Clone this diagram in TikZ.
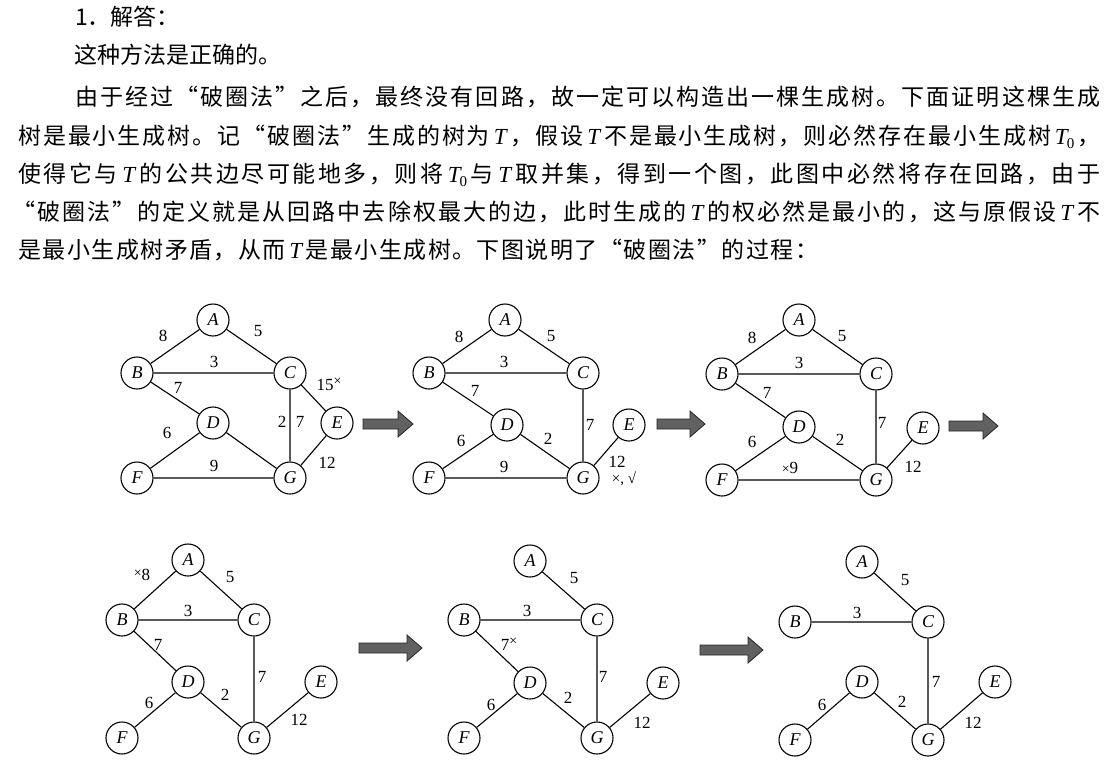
\documentclass[tikz,border=0pt]{standalone}
\usepackage{fontspec}
\setmainfont{Liberation Serif}
\newfontfamily\cjk{Noto Sans CJK SC}

% italic T and T_0 inside the Chinese text
\newcommand\Tv{\hbox{\kern2pt\rmfamily\itshape T\kern2pt}}
\newcommand\Tz{\hbox{\kern2pt\rmfamily\itshape T\kern-1pt\raisebox{-4pt}{\upshape\fontsize{15}{15}\selectfont 0}\kern1pt}}
% small cross mark beside a weight
\newcommand\cross{{\fontsize{14}{14}\selectfont ×}}

% set a line to a fixed width, spreading the characters evenly
\makeatletter
\def\spreadline#1#2{\hbox to #1{\spread@first#2\relax}}
\def\spread@first#1{#1\spread@next}
\def\spread@next#1{\ifx\relax#1\else\hfil#1\expandafter\spread@next\fi}
\makeatother

\tikzset{
  txt/.style={anchor=base west, inner sep=0pt, font=\cjk\fontsize{23}{28}\selectfont},
  vtx/.style={circle, draw, line width=1.1pt, minimum size=32pt, inner sep=0pt,
              font=\fontsize{18}{18}\selectfont\itshape},
  edge/.style={line width=1.1pt},
  lab/.style={inner sep=0pt, font=\fontsize{17}{17}\selectfont},
  bigarrowstyle/.style={fill=black!62, draw=black!85, line width=0.8pt, line join=miter}
}
\newcommand\bigarrow[3]{%
  \filldraw[bigarrowstyle] (#1,#3-5) -- (#2-15,#3-5) -- (#2-15,#3-13) -- (#2,#3)
    -- (#2-15,#3+13) -- (#2-15,#3+5) -- (#1,#3+5) -- cycle;}

\begin{document}
\begin{tikzpicture}[x=1pt, y=-1pt]
\useasboundingbox (0,0) rectangle (1120,774);
\fill[white] (0,0) rectangle (1120,774);

% ---------------- text ----------------
\node[txt] (t1) at (75,25) {1．解答：};
\node[txt] (t2) at (74,63) {这种方法是正确的。};
\node[txt] (t3) at (75,105) {\spreadline{1025pt}{由于经过“破圈法”之后，最终没有回路，故一定可以构造出一棵生成树。下面证明这棵生成}};
\node[txt] (t4) at (18,144) {\spreadline{1082pt}{树是最小生成树。记“破圈法”生成的树为\Tv，假设\Tv 不是最小生成树，则必然存在最小生成树\Tz，}};
\node[txt] (t5) at (18,182) {\spreadline{1082pt}{使得它与\Tv 的公共边尽可能地多，则将\Tz 与\Tv 取并集，得到一个图，此图中必然将存在回路，由于}};
\node[txt] (t6) at (12,220) {\spreadline{1088pt}{“破圈法”的定义就是从回路中去除权最大的边，此时生成的\Tv 的权必然是最小的，这与原假设\Tv 不}};
\node[txt] (t7) at (18,258) {\spreadline{800pt}{是最小生成树矛盾，从而\Tv 是最小生成树。下图说明了“破圈法”的过程：}};

% ---------------- graph 1 ----------------
\node[vtx] (a1) at (213,320) {A};
\node[vtx] (b1) at (137,373) {B};
\node[vtx] (c1) at (290,373) {C};
\node[vtx] (d1) at (213,423) {D};
\node[vtx] (e1) at (337,423) {E};
\node[vtx] (f1) at (137,478) {F};
\node[vtx] (g1) at (290,478) {G};
\draw[edge] (a1) -- (b1) (a1) -- (c1) (b1) -- (c1) (b1) -- (d1) (c1) -- (g1)
  (c1) -- (e1) (d1) -- (f1) (d1) -- (g1) (f1) -- (g1) (e1) -- (g1);
\node[lab] (w1ab) at (163,336) {8};
\node[lab] (w1ac) at (258,331) {5};
\node[lab] (w1bc) at (214,362) {3};
\node[lab] (w1ce) at (329,384) {15\raisebox{5pt}{\cross}};
\node[lab] (w1bd) at (178,388) {7};
\node[lab] (w1dg) at (282,422) {2};
\node[lab] (w1cg) at (300,422) {7};
\node[lab] (w1df) at (167,433) {6};
\node[lab] (w1fg) at (214,466) {9};
\node[lab] (w1eg) at (327,463) {12};

\bigarrow{363}{413}{424}

% ---------------- graph 2 ----------------
\node[vtx] (a2) at (505,320) {A};
\node[vtx] (b2) at (429,373) {B};
\node[vtx] (c2) at (583,373) {C};
\node[vtx] (d2) at (507,425) {D};
\node[vtx] (e2) at (629,425) {E};
\node[vtx] (f2) at (429,478) {F};
\node[vtx] (g2) at (583,478) {G};
\draw[edge] (a2) -- (b2) (a2) -- (c2) (b2) -- (c2) (b2) -- (d2) (c2) -- (g2)
  (d2) -- (f2) (d2) -- (g2) (f2) -- (g2) (e2) -- (g2);
\node[lab] (w2ab) at (459,337) {8};
\node[lab] (w2ac) at (551,336) {5};
\node[lab] (w2bc) at (504,362) {3};
\node[lab] (w2bd) at (475,391) {7};
\node[lab] (w2cg) at (590,425) {7};
\node[lab] (w2df) at (461,441) {6};
\node[lab] (w2dg) at (548,439) {2};
\node[lab] (w2fg) at (504,467) {9};
\node[lab] (w2eg) at (617,462) {12};
\node[lab, font=\fontsize{15}{15}\selectfont] (w2mk) at (624,479) {×, √};

\bigarrow{657}{705}{424}

% ---------------- graph 3 ----------------
\node[vtx] (a3) at (799,320) {A};
\node[vtx] (b3) at (722,374) {B};
\node[vtx] (c3) at (876,374) {C};
\node[vtx] (d3) at (799,427) {D};
\node[vtx] (e3) at (923,428) {E};
\node[vtx] (f3) at (722,480) {F};
\node[vtx] (g3) at (876,480) {G};
\draw[edge] (a3) -- (b3) (a3) -- (c3) (b3) -- (c3) (b3) -- (d3) (c3) -- (g3)
  (d3) -- (f3) (d3) -- (g3) (f3) -- (g3) (e3) -- (g3);
\node[lab] (w3ab) at (752,338) {8};
\node[lab] (w3ac) at (842,336) {5};
\node[lab] (w3bc) at (799,363) {3};
\node[lab] (w3bd) at (767,393) {7};
\node[lab] (w3cg) at (882,423) {7};
\node[lab] (w3df) at (752,442) {6};
\node[lab] (w3dg) at (840,440) {2};
\node[lab] (w3fg) at (790,468) {\cross 9};
\node[lab] (w3eg) at (913,467) {12};

\bigarrow{949}{998}{426}

% ---------------- graph 4 ----------------
\node[vtx] (a4) at (188,560) {A};
\node[vtx] (b4) at (122,620) {B};
\node[vtx] (c4) at (254,620) {C};
\node[vtx] (d4) at (188,682) {D};
\node[vtx] (e4) at (321,682) {E};
\node[vtx] (f4) at (122,738) {F};
\node[vtx] (g4) at (254,738) {G};
\draw[edge] (a4) -- (b4) (a4) -- (c4) (b4) -- (c4) (b4) -- (d4) (c4) -- (g4)
  (d4) -- (f4) (d4) -- (g4) (e4) -- (g4);
\node[lab] (w4ab) at (142,575) {\raisebox{3pt}{\cross}8};
\node[lab] (w4ac) at (230,577) {5};
\node[lab] (w4bc) at (188,611) {3};
\node[lab] (w4bd) at (158,645) {7};
\node[lab] (w4cg) at (262,677) {7};
\node[lab] (w4df) at (149,703) {6};
\node[lab] (w4dg) at (225,695) {2};
\node[lab] (w4eg) at (299,720) {12};

\bigarrow{359}{422}{648}

% ---------------- graph 5 ----------------
\node[vtx] (a5) at (530,561) {A};
\node[vtx] (b5) at (464,620) {B};
\node[vtx] (c5) at (597,620) {C};
\node[vtx] (d5) at (530,683) {D};
\node[vtx] (e5) at (663,683) {E};
\node[vtx] (f5) at (464,738) {F};
\node[vtx] (g5) at (597,738) {G};
\draw[edge] (a5) -- (c5) (b5) -- (c5) (b5) -- (d5) (c5) -- (g5)
  (d5) -- (f5) (d5) -- (g5) (e5) -- (g5);
\node[lab] (w5ac) at (574,578) {5};
\node[lab] (w5bc) at (527,611) {3};
\node[lab] (w5bd) at (509,644) {7\raisebox{5pt}{\cross}};
\node[lab] (w5cg) at (603,677) {7};
\node[lab] (w5df) at (491,705) {6};
\node[lab] (w5dg) at (568,698) {2};
\node[lab] (w5eg) at (642,723) {12};

\bigarrow{700}{763}{650}

% ---------------- graph 6 ----------------
\node[vtx] (a6) at (862,562) {A};
\node[vtx] (b6) at (795,622) {B};
\node[vtx] (c6) at (928,622) {C};
\node[vtx] (d6) at (862,682) {D};
\node[vtx] (e6) at (995,682) {E};
\node[vtx] (f6) at (795,740) {F};
\node[vtx] (g6) at (928,740) {G};
\draw[edge] (a6) -- (c6) (b6) -- (c6) (c6) -- (g6)
  (d6) -- (f6) (d6) -- (g6) (e6) -- (g6);
\node[lab] (w6ac) at (905,580) {5};
\node[lab] (w6bc) at (857,613) {3};
\node[lab] (w6cg) at (936,682) {7};
\node[lab] (w6df) at (822,705) {6};
\node[lab] (w6dg) at (902,702) {2};
\node[lab] (w6eg) at (973,723) {12};
\end{tikzpicture}
\end{document}
